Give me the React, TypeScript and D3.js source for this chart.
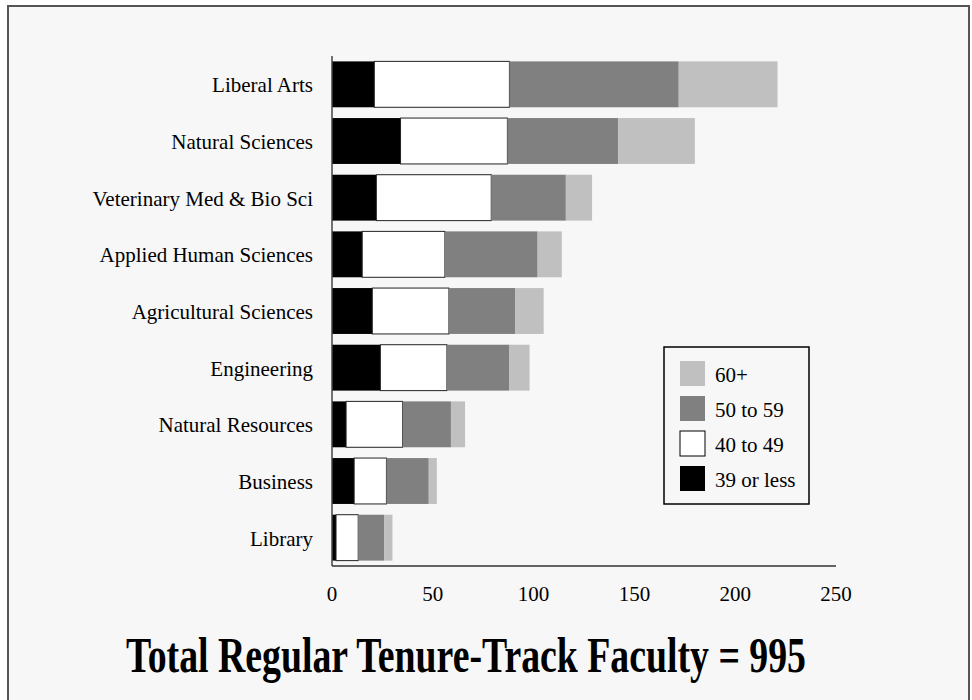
import React from "react";
import * as d3 from "d3";

const categories = [
  "Liberal Arts",
  "Natural Sciences",
  "Veterinary Med & Bio Sci",
  "Applied Human Sciences",
  "Agricultural Sciences",
  "Engineering",
  "Natural Resources",
  "Business",
  "Library",
];
const age39OrLess = [21, 34, 22, 15, 20, 24, 7, 11, 2];
const age40to49 = [67, 53, 57, 41, 38, 33, 28, 16, 11];
const age50to59 = [84, 55, 37, 46, 33, 31, 24, 21, 13];
const age60plus = [49, 38, 13, 12, 14, 10, 7, 4, 4];
const seriesNames = ["39 or less", "40 to 49", "50 to 59", "60+"];
const seriesColors = ["#000000", "#ffffff", "#808080", "#c0c0c0"];
const xTicks = [0, 50, 100, 150, 200, 250];
const totalFaculty = 995;

export default function App() {
  const W = 972;
  const H = 700;
  const x = d3.scaleLinear().domain([0, 250]).range([332, 836]);
  const y = d3
    .scaleBand<string>()
    .domain(categories)
    .range([56, 566])
    .paddingInner(0.19)
    .paddingOuter(0.095);

  const rows = categories.map((c, i) => ({
    cat: c,
    s0: age39OrLess[i],
    s1: age40to49[i],
    s2: age50to59[i],
    s3: age60plus[i],
  }));
  const stack = d3.stack<any>().keys(["s0", "s1", "s2", "s3"]);
  const stacked = stack(rows);

  const font = "'Liberation Serif', 'Times New Roman', serif";
  const legendItems = [3, 2, 1, 0];

  return (
    <svg
      width={W}
      height={H}
      style={{ position: "fixed", left: 0, top: 0, background: "#ffffff" }}
    >
      <rect x={8} y={6} width={961} height={720} fill="#f7f7f7" stroke="#555" strokeWidth={2} />
      {stacked.map((layer, li) => (
        <g key={li}>
          {layer.map((d, i) => (
            <rect
              key={i}
              x={x(d[0])}
              y={y(categories[i])!}
              width={x(d[1]) - x(d[0])}
              height={y.bandwidth()}
              fill={seriesColors[li]}
              stroke={li === 1 ? "#222" : "none"}
              strokeWidth={li === 1 ? 1 : 0}
            />
          ))}
        </g>
      ))}
      {/* axes */}
      <line x1={x(0)} x2={x(0)} y1={56} y2={566} stroke="#444" strokeWidth={1.5} />
      <line x1={x(0)} x2={x(250)} y1={566} y2={566} stroke="#333" strokeWidth={1.5} />
      {xTicks.map((t) => (
        <text key={t} x={x(t)} y={601} textAnchor="middle" fontFamily={font} fontSize={21} fill="#000">
          {t}
        </text>
      ))}
      {categories.map((c) => (
        <text
          key={c}
          x={313}
          y={y(c)! + y.bandwidth() / 2 + 8}
          textAnchor="end"
          fontFamily={font}
          fontSize={21}
          fill="#000"
        >
          {c}
        </text>
      ))}
      {/* legend */}
      <rect x={664} y={347} width={145} height={157} fill="#f7f7f7" stroke="#000" strokeWidth={1.5} />
      {legendItems.map((si, k) => (
        <g key={si}>
          <rect
            x={680}
            y={361 + k * 35}
            width={25}
            height={25}
            fill={seriesColors[si]}
            stroke={si === 1 ? "#000" : "none"}
            strokeWidth={1}
          />
          <text x={715} y={361 + k * 35 + 21} fontFamily={font} fontSize={21} fill="#000">
            {seriesNames[si]}
          </text>
        </g>
      ))}
      <g transform="translate(466,672) scale(1,1.38)">
        <text
          x={0}
          y={0}
          textAnchor="middle"
          fontFamily={font}
          fontWeight="bold"
          fontSize={36}
          textLength={680}
          lengthAdjust="spacingAndGlyphs"
          fill="#000"
        >
          {`Total Regular Tenure-Track Faculty = ${totalFaculty}`}
        </text>
      </g>
    </svg>
  );
}
